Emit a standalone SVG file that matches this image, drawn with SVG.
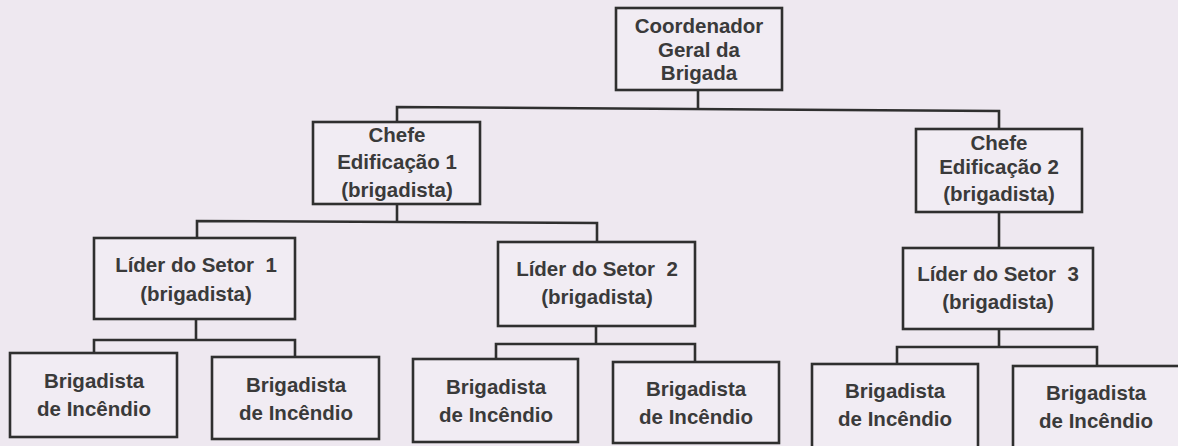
<svg xmlns="http://www.w3.org/2000/svg" width="1178" height="446" viewBox="0 0 1178 446">
<style>
  .bg { fill: #eee8f0; }
  .box { fill: #f1ecf3; stroke: #2f2f2f; stroke-width: 2.6; }
  .conn { fill: none; stroke: #2f2f2f; stroke-width: 2.6; }
  text { font-family: "Liberation Sans", Arial, sans-serif; font-weight: bold; font-size: 20.5px; fill: #3a3a3a; text-anchor: middle; white-space: pre; }
</style>
<rect class="bg" x="0" y="0" width="1178" height="446"/>
<g id="connectors">
  <polyline class="conn" points="698,90 698,108.5"/>
  <polyline class="conn" points="397,122 397,107 999,111 999,129"/>
  <polyline class="conn" points="397,204 397,221"/>
  <polyline class="conn" points="197,238 197,221 597,223 597,242"/>
  <polyline class="conn" points="999,212 999,248"/>
  <polyline class="conn" points="196,319 196,340"/>
  <polyline class="conn" points="94,353 94,340 295,340 295,357"/>
  <polyline class="conn" points="596,326 596,344"/>
  <polyline class="conn" points="496,359 496,344 695,344 695,362"/>
  <polyline class="conn" points="999,329 999,347"/>
  <polyline class="conn" points="897,364 897,347 1097,347 1097,366"/>
</g>
<g id="coordenador">
  <rect class="box" x="616" y="8" width="166" height="82"/>
  <text x="699" y="33">Coordenador</text>
  <text x="699" y="57">Geral da</text>
  <text x="699" y="80">Brigada</text>
</g>
<g id="chefe1">
  <rect class="box" x="313" y="122" width="167" height="82"/>
  <text x="397" y="142">Chefe</text>
  <text x="397" y="169">Edificação 1</text>
  <text x="397" y="197">(brigadista)</text>
</g>
<g id="chefe2">
  <rect class="box" x="916" y="129" width="166" height="83"/>
  <text x="999" y="150">Chefe</text>
  <text x="999" y="174">Edificação 2</text>
  <text x="999" y="201">(brigadista)</text>
</g>
<g id="lider1">
  <rect class="box" x="94" y="238" width="201" height="81"/>
  <text x="196" y="272">Líder do Setor  1</text>
  <text x="196" y="301">(brigadista)</text>
</g>
<g id="lider2">
  <rect class="box" x="498" y="242" width="197" height="84"/>
  <text x="597" y="276">Líder do Setor  2</text>
  <text x="597" y="304">(brigadista)</text>
</g>
<g id="lider3">
  <rect class="box" x="903" y="248" width="190" height="81"/>
  <text x="998" y="281">Líder do Setor  3</text>
  <text x="998" y="309">(brigadista)</text>
</g>
<g id="brigadista1">
  <rect class="box" x="10" y="353" width="167" height="84"/>
  <text x="94" y="388">Brigadista</text>
  <text x="94" y="416">de Incêndio</text>
</g>
<g id="brigadista2">
  <rect class="box" x="212" y="357" width="167" height="82"/>
  <text x="296" y="392">Brigadista</text>
  <text x="296" y="420">de Incêndio</text>
</g>
<g id="brigadista3">
  <rect class="box" x="413" y="359" width="165" height="83"/>
  <text x="496" y="394">Brigadista</text>
  <text x="496" y="422">de Incêndio</text>
</g>
<g id="brigadista4">
  <rect class="box" x="613" y="362" width="166" height="81"/>
  <text x="696" y="396">Brigadista</text>
  <text x="696" y="424">de Incêndio</text>
</g>
<g id="brigadista5">
  <rect class="box" x="812" y="364" width="166" height="85"/>
  <text x="895" y="398">Brigadista</text>
  <text x="895" y="426">de Incêndio</text>
</g>
<g id="brigadista6">
  <rect class="box" x="1013" y="366" width="167" height="85"/>
  <text x="1096" y="400">Brigadista</text>
  <text x="1096" y="428">de Incêndio</text>
</g>
</svg>
